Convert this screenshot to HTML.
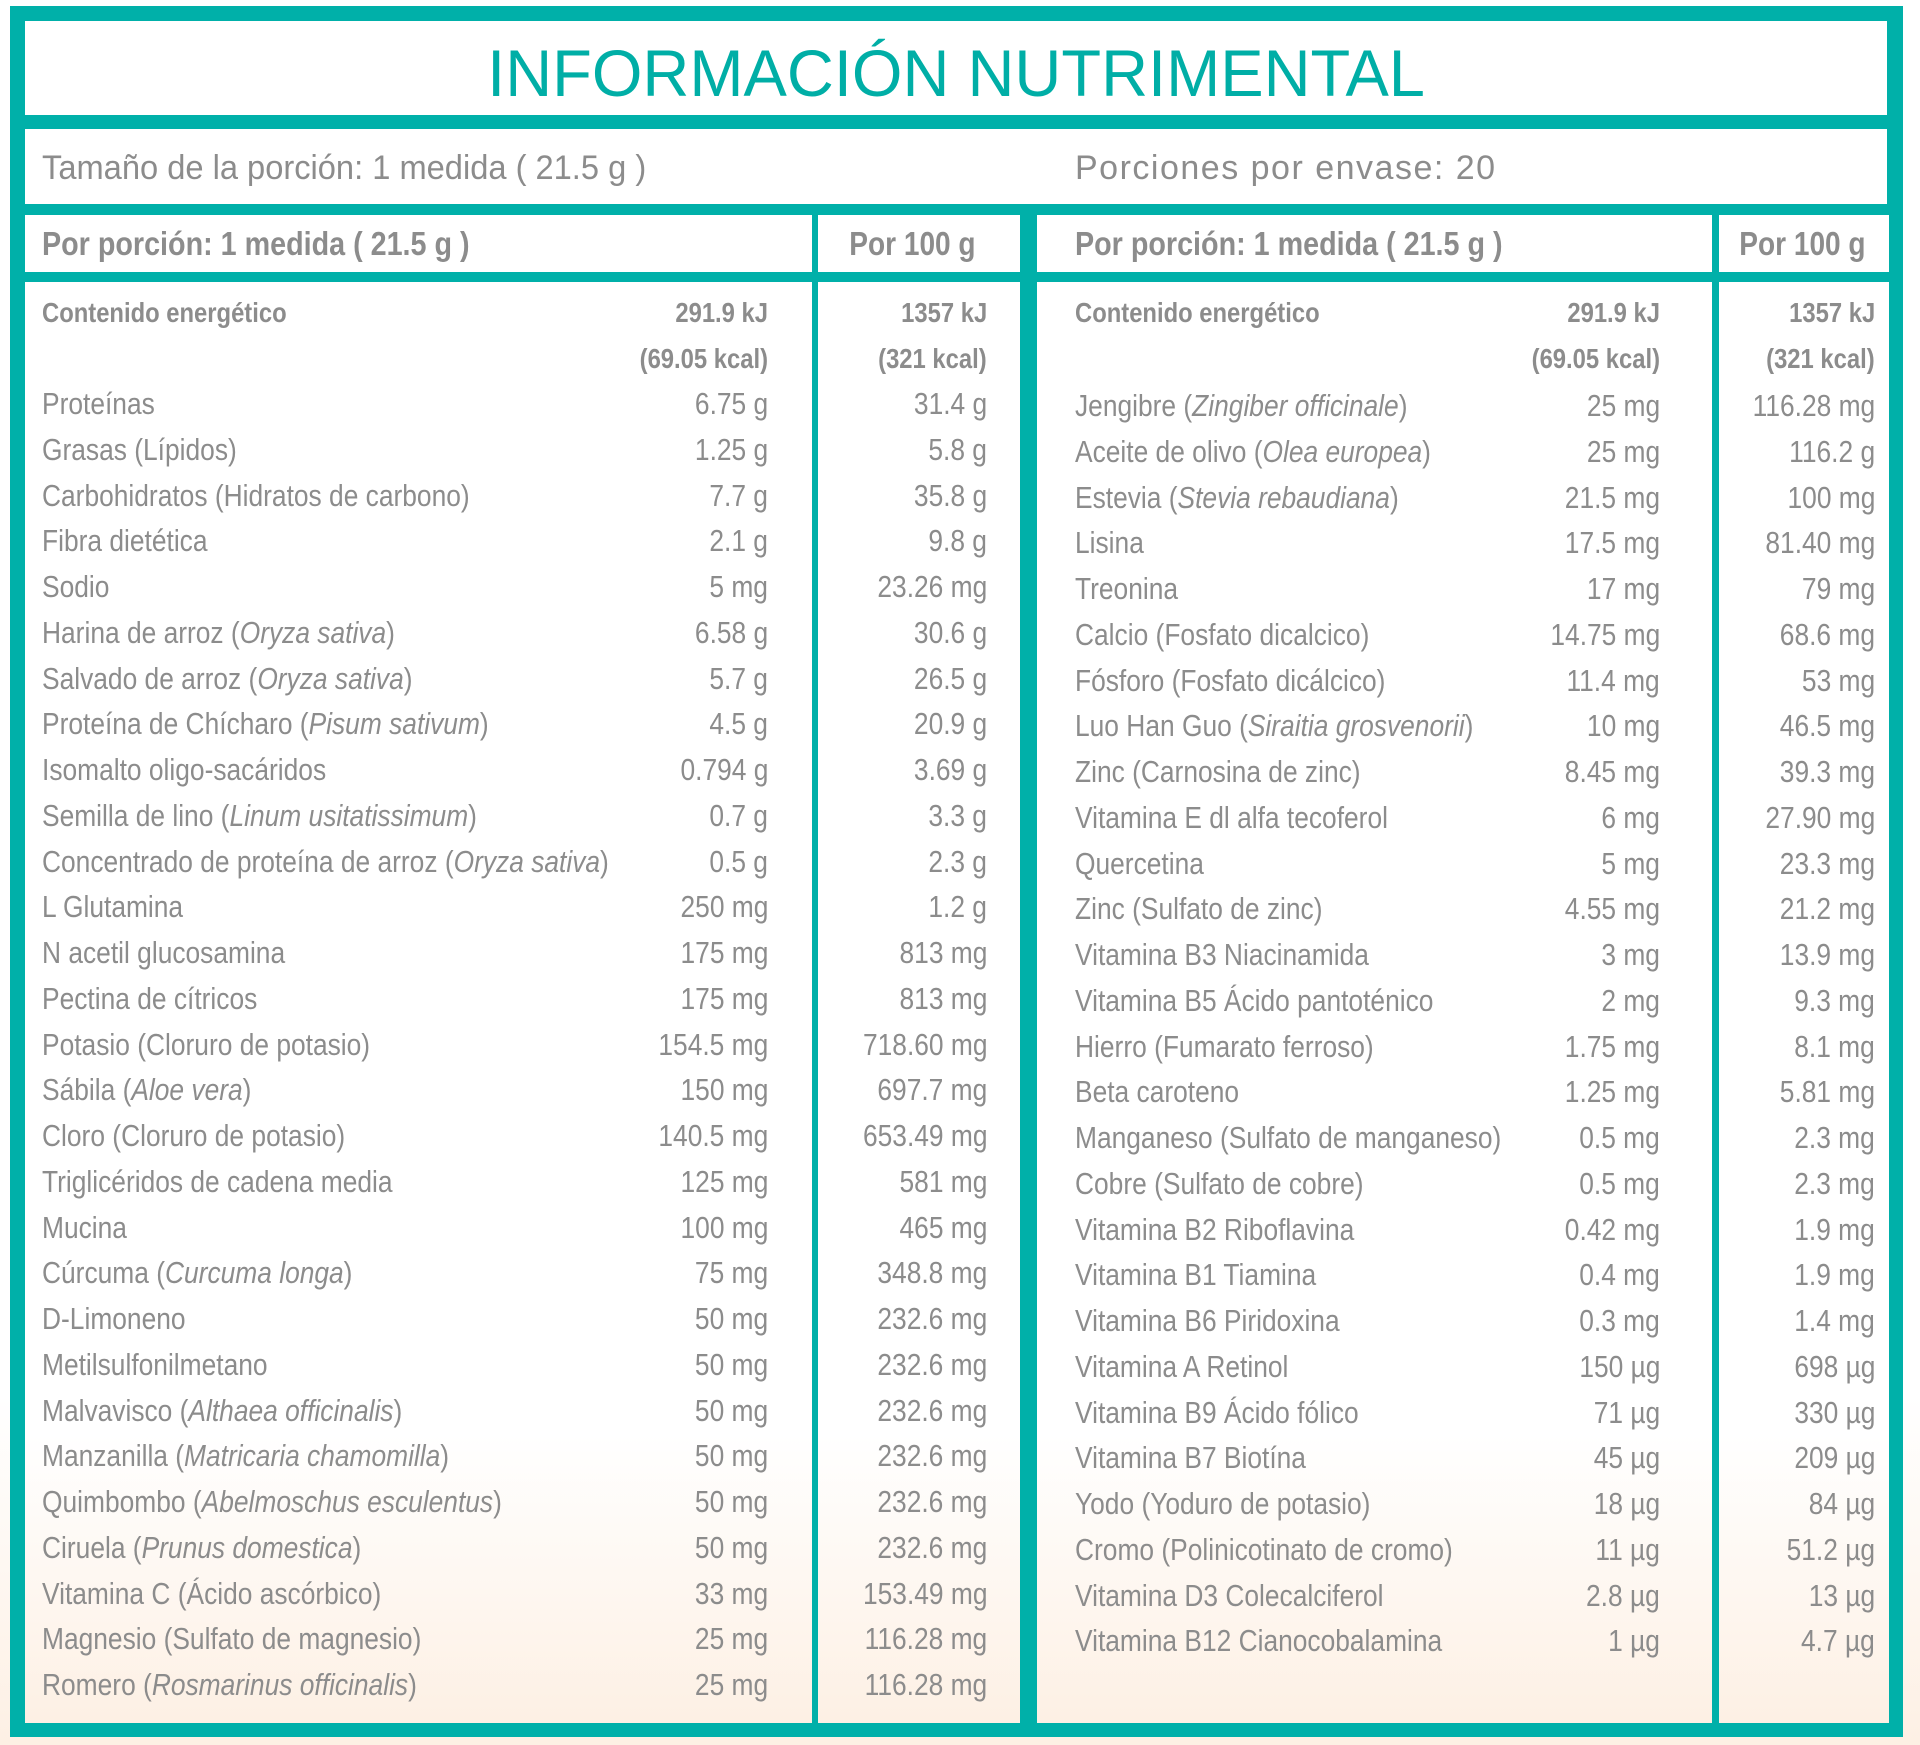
<!DOCTYPE html>
<html><head><meta charset="utf-8">
<style>
html,body{margin:0;padding:0;}
body{width:1920px;height:1745px;position:relative;overflow:hidden;background:linear-gradient(#fff 0%,#fff 80%,#fdf0e4 100%);font-family:"Liberation Sans",sans-serif;}
.box{position:absolute;}
.t{position:absolute;white-space:nowrap;color:#8c8c8c;font-size:31px;line-height:36px;}
.l{transform:scaleX(0.85);transform-origin:left center;}
.r{transform:scaleX(0.85);transform-origin:right center;text-align:right;}
.b{font-weight:bold;}
.cell{position:absolute;background:linear-gradient(#fff 0%,#fff 80%,#fdf0e4 100%);}
</style></head>
<body>
<div class="box" style="left:10px;top:6px;width:1893px;height:1731px;background:#00b0a9;"></div>
<div class="box" style="left:25px;top:21px;width:1862px;height:94px;background:#fff;"></div>
<div class="t" style="left:25px;width:1862px;top:40px;height:66px;line-height:66px;font-size:66px;color:#00aea6;text-align:center;"><span style="display:inline-block;transform:scaleX(0.985);">INFORMACIÓN NUTRIMENTAL</span></div>
<div class="box" style="left:25px;top:129px;width:1862px;height:75px;background:#fff;"></div>
<div class="t" style="left:42px;top:148px;font-size:34px;line-height:40px;transform:scaleX(0.96);transform-origin:left center;">Tamaño de la porción: 1 medida ( 21.5 g )</div>
<div class="t" style="left:1075px;top:148px;font-size:34px;line-height:40px;letter-spacing:1.5px;transform:scaleX(1.0);transform-origin:left center;">Porciones por envase: 20</div>
<!-- header cells -->
<div class="box" style="left:25px;top:215px;width:787px;height:57px;background:#fff;"></div>
<div class="box" style="left:818px;top:215px;width:202px;height:57px;background:#fff;"></div>
<div class="box" style="left:1037px;top:215px;width:675px;height:57px;background:#fff;"></div>
<div class="box" style="left:1719px;top:215px;width:170px;height:57px;background:#fff;"></div>
<div class="t b" style="left:42px;top:226px;font-size:33px;transform:scaleX(0.87);transform-origin:left center;">Por porción: 1 medida ( 21.5 g )</div>
<div class="t r b" style="right:944px;top:226px;font-size:33px;">Por 100 g</div>
<div class="t b" style="left:1075px;top:226px;font-size:33px;transform:scaleX(0.87);transform-origin:left center;">Por porción: 1 medida ( 21.5 g )</div>
<div class="t r b" style="right:54px;top:226px;font-size:33px;">Por 100 g</div>
<!-- body cells -->
<div class="cell" style="left:25px;top:282px;width:787px;height:1441px;"></div>
<div class="cell" style="left:818px;top:282px;width:202px;height:1441px;"></div>
<div class="cell" style="left:1037px;top:282px;width:675px;height:1441px;"></div>
<div class="cell" style="left:1719px;top:282px;width:170px;height:1441px;"></div>
<div id="rows"></div>
<script>
const leftNames=["Proteínas","Grasas (Lípidos)","Carbohidratos (Hidratos de carbono)","Fibra dietética","Sodio","Harina de arroz (<i>Oryza sativa</i>)","Salvado de arroz (<i>Oryza sativa</i>)","Proteína de Chícharo (<i>Pisum sativum</i>)","Isomalto oligo-sacáridos","Semilla de lino (<i>Linum usitatissimum</i>)","Concentrado de proteína de arroz (<i>Oryza sativa</i>)","L Glutamina","N acetil glucosamina","Pectina de cítricos","Potasio (Cloruro de potasio)","Sábila (<i>Aloe vera</i>)","Cloro (Cloruro de potasio)","Triglicéridos de cadena media","Mucina","Cúrcuma (<i>Curcuma longa</i>)","D-Limoneno","Metilsulfonilmetano","Malvavisco (<i>Althaea officinalis</i>)","Manzanilla (<i>Matricaria chamomilla</i>)","Quimbombo (<i>Abelmoschus esculentus</i>)","Ciruela (<i>Prunus domestica</i>)","Vitamina C (Ácido ascórbico)","Magnesio (Sulfato de magnesio)","Romero (<i>Rosmarinus officinalis</i>)"];
const leftPortion=["6.75 g","1.25 g","7.7 g","2.1 g","5 mg","6.58 g","5.7 g","4.5 g","0.794 g","0.7 g","0.5 g","250 mg","175 mg","175 mg","154.5 mg","150 mg","140.5 mg","125 mg","100 mg","75 mg","50 mg","50 mg","50 mg","50 mg","50 mg","50 mg","33 mg","25 mg","25 mg"];
const left100=["31.4 g","5.8 g","35.8 g","9.8 g","23.26 mg","30.6 g","26.5 g","20.9 g","3.69 g","3.3 g","2.3 g","1.2 g","813 mg","813 mg","718.60 mg","697.7 mg","653.49 mg","581 mg","465 mg","348.8 mg","232.6 mg","232.6 mg","232.6 mg","232.6 mg","232.6 mg","232.6 mg","153.49 mg","116.28 mg","116.28 mg"];
const rightNames=["Jengibre (<i>Zingiber officinale</i>)","Aceite de olivo (<i>Olea europea</i>)","Estevia (<i>Stevia rebaudiana</i>)","Lisina","Treonina","Calcio (Fosfato dicalcico)","Fósforo (Fosfato dicálcico)","Luo Han Guo (<i>Siraitia grosvenorii</i>)","Zinc (Carnosina de zinc)","Vitamina E dl alfa tecoferol","Quercetina","Zinc (Sulfato de zinc)","Vitamina B3 Niacinamida","Vitamina B5 Ácido pantoténico","Hierro (Fumarato ferroso)","Beta caroteno","Manganeso (Sulfato de manganeso)","Cobre (Sulfato de cobre)","Vitamina B2 Riboflavina","Vitamina B1 Tiamina","Vitamina B6 Piridoxina","Vitamina A Retinol","Vitamina B9 Ácido fólico","Vitamina B7 Biotína","Yodo (Yoduro de potasio)","Cromo (Polinicotinato de cromo)","Vitamina D3 Colecalciferol","Vitamina B12 Cianocobalamina"];
const rightPortion=["25 mg","25 mg","21.5 mg","17.5 mg","17 mg","14.75 mg","11.4 mg","10 mg","8.45 mg","6 mg","5 mg","4.55 mg","3 mg","2 mg","1.75 mg","1.25 mg","0.5 mg","0.5 mg","0.42 mg","0.4 mg","0.3 mg","150 µg","71 µg","45 µg","18 µg","11 µg","2.8 µg","1 µg"];
const right100=["116.28 mg","116.2 g","100 mg","81.40 mg","79 mg","68.6 mg","53 mg","46.5 mg","39.3 mg","27.90 mg","23.3 mg","21.2 mg","13.9 mg","9.3 mg","8.1 mg","5.81 mg","2.3 mg","2.3 mg","1.9 mg","1.9 mg","1.4 mg","698 µg","330 µg","209 µg","84 µg","51.2 µg","13 µg","4.7 µg"];
const energy=["Contenido energético","291.9 kJ","(69.05 kcal)","1357 kJ","(321 kcal)"];

const host=document.getElementById('rows');
const PITCH=45.75, Y0=404;
function txt(html,x,cy,align,cls){
  const d=document.createElement('div');
  d.className='t '+(align==='r'?'r':'l')+(cls?' '+cls:'');
  d.innerHTML=html;
  d.style.top=(cy-18)+'px';
  if(align==='r'){d.style.right=(1920-x)+'px';}else{d.style.left=x+'px';}
  host.appendChild(d);
  return d;
}
[[42,768,987],[1075,1660,1875]].forEach((c,side)=>{
  let e=txt(energy[0],c[0],313,'l','b');
  
  
  e.style.fontSize='28px';
  [[1,c[1],313],[2,c[1],359],[3,c[2],313],[4,c[2],359]].forEach(v=>{
    let d=txt(energy[v[0]],v[1],v[2],'r','b');
    
    
    d.style.fontSize='28px';
  });
  const names=side?rightNames:leftNames, p=side?rightPortion:leftPortion, h=side?right100:left100;
  names.forEach((n,i)=>{
    const cy=Y0+i*PITCH+(side?2:0);
    let a=txt(n,c[0],cy,'l');
    
    
    let b=txt(p[i],c[1],cy,'r');
    
    
    let g=txt(h[i],c[2],cy,'r');
    
    
  });
});
</script>
</body></html>
